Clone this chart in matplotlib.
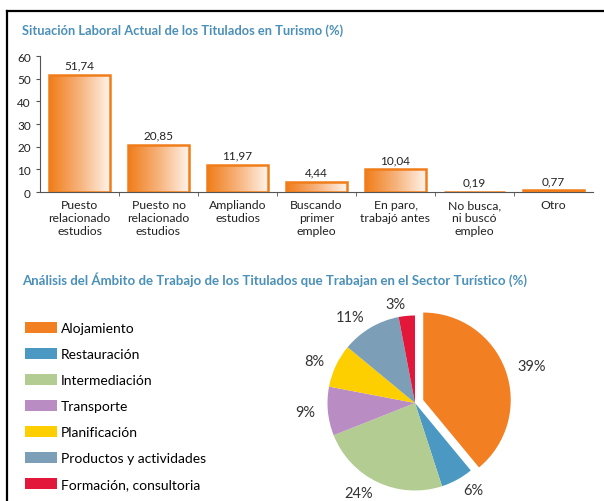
import matplotlib.pyplot as plt
import numpy as np
from matplotlib.colors import LinearSegmentedColormap
from matplotlib.lines import Line2D
from matplotlib.patches import Patch

# --- data ---
categorias = ["Puesto\nrelacionado\nestudios", "Puesto no\nrelacionado\nestudios",
              "Ampliando\nestudios", "Buscando\nprimer\nempleo", "En paro,\ntrabajó antes",
              "No busca,\nni buscó\nempleo", "Otro"]
valores = [51.74, 20.85, 11.97, 4.44, 10.04, 0.19, 0.77]

ambitos = ["Alojamiento", "Restauración", "Intermediación", "Transporte",
           "Planificación", "Productos y actividades", "Formación, consultoria"]
porcentajes = [39, 6, 24, 9, 8, 11, 3]
colores_pie = ["#f28022", "#4b99c2", "#b3cc91", "#b98cc4", "#fdcf00", "#7c9fb7", "#e3173a"]

titulo_barras = "Situación Laboral Actual de los Titulados en Turismo (%)"
titulo_pie = "Análisis del Ámbito de Trabajo de los Titulados que Trabajan en el Sector Turístico (%)"

plt.rcParams['font.family'] = ['Lato', 'DejaVu Sans']
azul = "#4a90b8"
naranja = "#f07d1a"

fig = plt.figure(figsize=(6.04, 5.02), dpi=100)

# frame lines (top and left)
fig.add_artist(Line2D([7 / 604, 1], [1 - 12 / 502, 1 - 12 / 502], color='black', lw=1.6))
fig.add_artist(Line2D([7 / 604, 7 / 604], [0, 1 - 12 / 502], color='black', lw=1.6))

# --- bar chart ---
fig.text(22 / 604, 1 - 31 / 502, titulo_barras, color=azul, fontsize=9.3,
         fontweight='bold', va='center', ha='left')

ax = fig.add_axes([40 / 604, 1 - 193 / 502, 553 / 604, 136 / 502])
x = np.arange(len(valores))
bars = ax.bar(x, valores, width=0.77, facecolor='none', edgecolor=naranja, linewidth=1.8, zorder=3)

cmap = LinearSegmentedColormap.from_list("grad", [naranja, "#f6b27a", "#fff3ea"])
grad = np.linspace(0, 1, 256).reshape(1, -1)
for b in bars:
    x0, y0 = b.get_x(), b.get_y()
    w, h = b.get_width(), b.get_height()
    im = ax.imshow(grad, cmap=cmap, aspect='auto', extent=[x0, x0 + w, y0, y0 + h], zorder=2)
    im.set_clip_path(b)

ax.bar_label(bars, labels=[f"{v:.2f}".replace('.', ',') for v in valores],
             padding=3, fontsize=8.5, color='#222222')

ax.set_xlim(-0.5, len(valores) - 0.5)
ax.set_ylim(0, 60)
ax.set_yticks(range(0, 61, 10))
ax.set_xticks(x)
ax.set_xticklabels(categorias, fontsize=8.8, linespacing=1.25, color='#222222')
ax.set_xticks(np.arange(0.5, len(valores) - 0.5, 1), minor=True)
ax.tick_params(axis='x', which='major', length=0, pad=5)
ax.tick_params(axis='x', which='minor', length=3, color='#555555')
ax.tick_params(axis='y', length=3, labelsize=8.5, color='#555555', labelcolor='#222222')
for s in ['top', 'right']:
    ax.spines[s].set_visible(False)
for s in ['left', 'bottom']:
    ax.spines[s].set_color('#555555')
    ax.spines[s].set_linewidth(0.8)
ax.set_facecolor('none')

# --- pie chart ---
fig.text(22 / 604, 1 - 280 / 502, titulo_pie, color=azul, fontsize=9.5,
         fontweight='bold', va='center', ha='left')

R = 87.5
half = 1.4 * R
cx, cy = 415, 404
axp = fig.add_axes([(cx - half) / 604, 1 - (cy + half) / 502, 2 * half / 604, 2 * half / 502])
explode = [0.1, 0, 0, 0, 0, 0, 0]
axp.pie(porcentajes, colors=colores_pie, startangle=90, counterclock=False,
        explode=explode, labels=[f"{p}%" for p in porcentajes], labeldistance=1.14,
        textprops={'fontsize': 10.5, 'color': '#333333'},
        wedgeprops={'linewidth': 0})
axp.set_xlim(-1.4, 1.4)
axp.set_ylim(-1.4, 1.4)
axp.set_aspect('equal')
axp.axis('off')

handles = [Patch(facecolor=c, edgecolor='none') for c in colores_pie]
fig.legend(handles, ambitos, loc='upper left', bbox_to_anchor=(25 / 604, 1 - 323 / 502),
           frameon=False, fontsize=10, handlelength=2.3, handleheight=0.8,
           handletextpad=0.3, labelspacing=1.0, borderaxespad=0, borderpad=0)

fig.savefig("out.png", dpi=100)
